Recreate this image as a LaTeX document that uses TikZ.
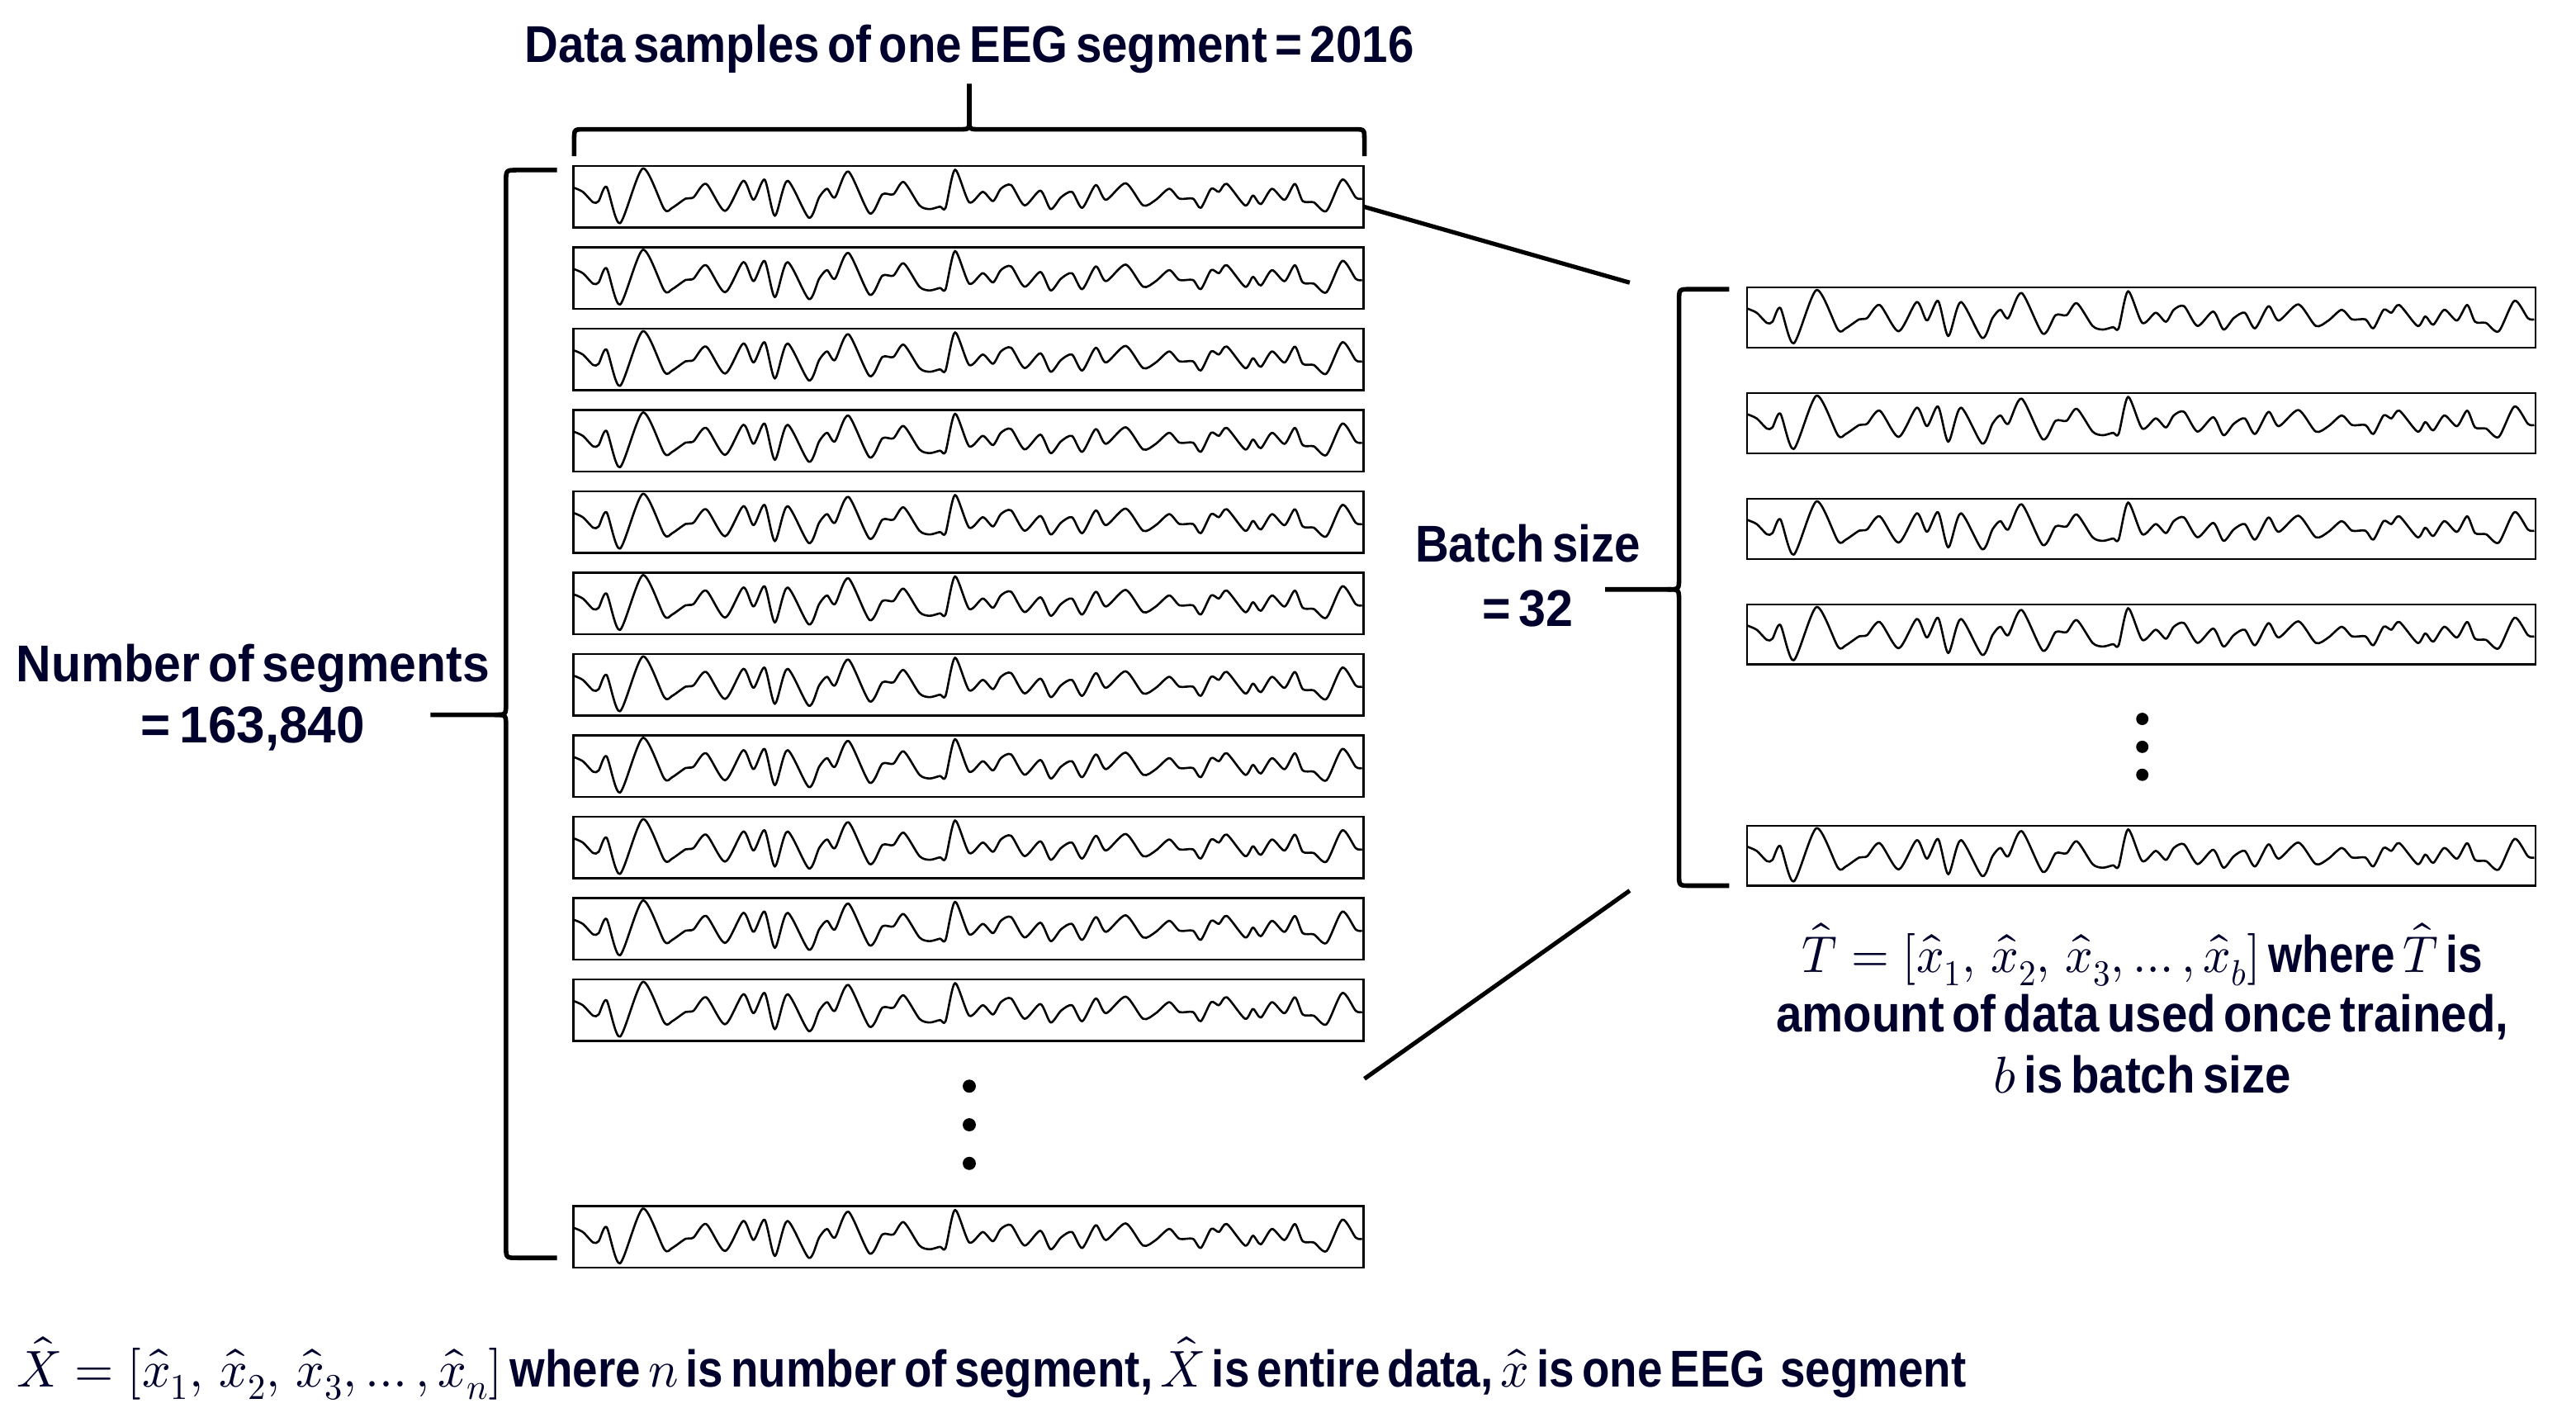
\documentclass[tikz,border=0pt]{standalone}
\usepackage{fontspec}
\usepackage{unicode-math}
\setmathfont{Latin Modern Math}
\setmainfont{Liberation Sans}[FakeStretch=0.9,WordSpace=0.6]
\definecolor{ink}{RGB}{0,0,45}
\begin{document}
\begin{tikzpicture}[x=1pt,y=-1pt,
  lbl/.style={text=ink, inner sep=0pt, font=\fontsize{31.5}{36}\selectfont\bfseries},
  seg/.style={draw=black, line width=1.2pt, minimum width=481pt, minimum height=37.5pt, inner sep=0pt, outer sep=0pt},
  segR/.style={seg, minimum width=480pt, minimum height=36.5pt},
  wave/.style={line width=1.3pt, line join=round},
  brc/.style={line width=2.8pt, line join=round},
  link/.style={line width=2.6pt},
  dotn/.style={circle, fill=black, inner sep=0pt, minimum size=8pt},
  eeg/.pic={\draw[wave] plot[smooth, tension=0.45] coordinates {
    (0,.35) (.012,.42) (.025,.59) (.032,.57) (.042,.34) (.059,.93) (.088,.04)
    (.115,.70) (.125,.68) (.142,.53) (.152,.51) (.168,.29) (.192,.73) (.215,.24)
    (.228,.55) (.242,.22) (.255,.81) (.271,.24) (.298,.84) (.311,.51) (.321,.37)
    (.331,.51) (.348,.09) (.375,.77) (.391,.46) (.405,.46) (.418,.26) (.438,.64)
    (.451,.70) (.464,.66) (.471,.68) (.483,.06) (.501,.59) (.518,.42) (.531,.57)
    (.541,.37) (.554,.31) (.571,.64) (.591,.40) (.604,.70) (.617,.51) (.631,.42)
    (.644,.68) (.661,.31) (.674,.55) (.699,.28) (.721,.64) (.737,.55) (.754,.37)
    (.767,.53) (.784,.53) (.794,.68) (.807,.37) (.817,.42) (.827,.29) (.850,.64)
    (.860,.48) (.870,.62) (.884,.37) (.900,.55) (.913,.29) (.923,.57) (.937,.59)
    (.953,.73) (.973,.22) (.990,.51) (.998,.53)};}
]
\useasboundingbox (0,0) rectangle (1568,868);

% left column of segments
\foreach \i in {1,...,11} {
  \node[seg] (L\i) at (589.5,{101+49.5*(\i-1)+18.75}) {};
  \pic[xscale=481,yscale=37.5] at (L\i.north west) {eeg};
}
\node[seg] (L12) at (589.5,752.75) {};
\pic[xscale=481,yscale=37.5] at (L12.north west) {eeg};
\node[dotn] (ld1) at (590,661) {};
\node[dotn] (ld2) at (590,684.5) {};
\node[dotn] (ld3) at (590,708) {};

% right column (batch)
\foreach \i in {1,...,4} {
  \node[segR] (R\i) at (1303.5,{175+64.3*(\i-1)+18.25}) {};
  \pic[xscale=480,yscale=36.5] at (R\i.north west) {eeg};
}
\node[segR] (R5) at (1303.5,520.75) {};
\pic[xscale=480,yscale=36.5] at (R5.north west) {eeg};
\node[dotn, minimum size=7.5pt] (rd1) at (1304,437.5) {};
\node[dotn, minimum size=7.5pt] (rd2) at (1304,454.5) {};
\node[dotn, minimum size=7.5pt] (rd3) at (1304,471.5) {};

% connectors
\coordinate (tA) at (992,172);
\coordinate (bA) at (830.5,656.5);
\coordinate (tB) at (992,542);
\draw[link] ([yshift=-6pt]L1.east) -- (tA);
\draw[link] (bA) -- (tB);

% top brace
\draw[brc] (349.5,95) -- (349.5,85) .. controls (349.5,78.7) .. (355.5,78.7) -- (584,78.7)
  .. controls (590,78.7) .. (590,72.5) -- (590,51);
\draw[brc] (590,72.5) .. controls (590,78.7) .. (596,78.7) -- (824.5,78.7)
  .. controls (830.5,78.7) .. (830.5,85) -- (830.5,95);

% left brace
\draw[brc] (339,103.5) -- (315,103.5) .. controls (308,103.5) .. (308,110.5) -- (308,428)
  .. controls (308,435) .. (301,435) -- (262,435);
\draw[brc] (301,435) .. controls (308,435) .. (308,442) -- (308,758.5)
  .. controls (308,765.5) .. (315,765.5) -- (339,765.5);

% right brace
\draw[brc] (1052.5,176) -- (1029,176) .. controls (1022,176) .. (1022,183) -- (1022,351.7)
  .. controls (1022,358.7) .. (1015,358.7) -- (977,358.7);
\draw[brc] (1015,358.7) .. controls (1022,358.7) .. (1022,365.7) -- (1022,532)
  .. controls (1022,539) .. (1029,539) -- (1052.5,539);

% labels
\node[lbl, anchor=base] (title) at (590,38) {Data samples of one EEG segment = 2016};
\node[lbl, anchor=base, xscale=1.045] (nseg1) at (154,415) {Number of segments};
\node[lbl, anchor=base, xscale=1.1] (nseg2) at (154,452) {= 163,840};
\node[lbl, anchor=base] (bs1) at (930,342) {Batch size};
\node[lbl, anchor=base, xscale=1.05] (bs2) at (930,381) {= 32};
\node[lbl, anchor=base, xscale=0.94] (t1) at (1304,592) {$\hat{T}=[\widehat{x}_1,\ \widehat{x}_2,\ \widehat{x}_3,\dots,\widehat{x}_b]$\,where\,$\hat{T}$ is};
\node[lbl, anchor=base] (t2) at (1304,628) {amount of data used once trained,};
\node[lbl, anchor=base] (t3) at (1304,665) {$b$ is batch size};
\node[lbl, anchor=base west, xscale=0.97] (bot) at (10,844) {$\hat{X}=[\widehat{x}_1,\ \widehat{x}_2,\ \widehat{x}_3,\dots,\widehat{x}_n]$ where $n$ is number of segment, $\hat{X}$ is entire data, $\hat{x}$ is one EEG\ \ segment};
\end{tikzpicture}
\end{document}
